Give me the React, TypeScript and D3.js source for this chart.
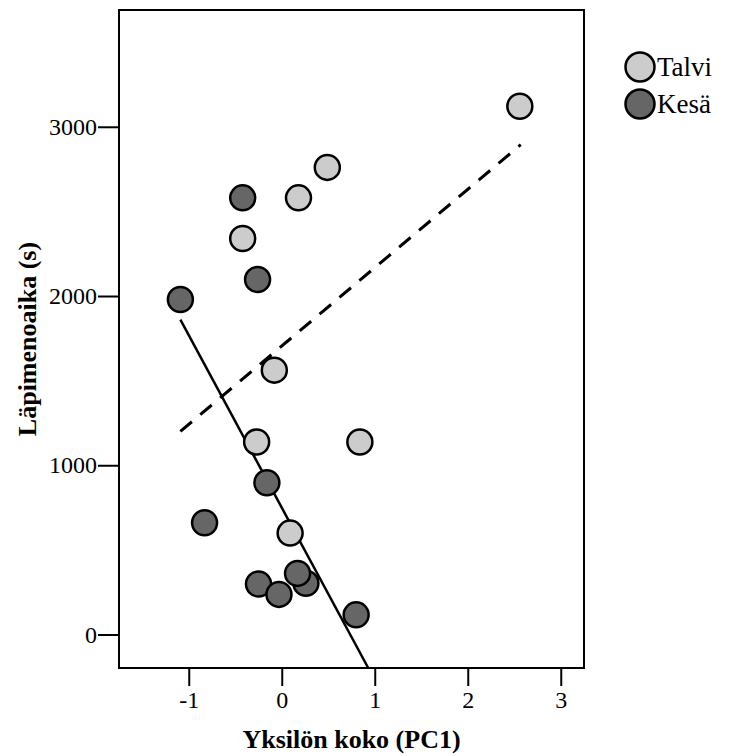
import React, { useEffect, useRef } from 'react';
import * as d3 from 'd3';

// Talvi (winter) points
const talviX = [2.56, 0.49, 0.18, -0.42, -0.08, -0.27, 0.84, 0.09];
const talviY = [3121, 2760, 2580, 2340, 1562, 1137, 1137, 599];

// Kesä (summer) points
const kesaX = [-0.42, -0.26, -1.09, -0.16, -0.83, -0.25, -0.03, 0.26, 0.17, 0.80];
const kesaY = [2580, 2098, 1979, 897, 660, 298, 237, 303, 361, 116];

// fitted lines: [x0, x1] / [y0, y1]
const talviLineX = [-1.09, 2.57];
const talviLineY = [1200, 2894];
const kesaLineX = [-1.09, 0.93];
const kesaLineY = [1860, -198];

const xTicks = [-1, 0, 1, 2, 3];
const yTicks = [0, 1000, 2000, 3000];

const groups = ['Talvi', 'Kesä'];
const groupColors = ['#cccccc', '#666666'];

const App = () => {
  const svgRef = useRef<SVGSVGElement>(null);

  useEffect(() => {
    if (!svgRef.current) return;
    const svg = d3.select(svgRef.current);
    svg.selectAll('*').remove();

    const left = 119, right = 584, top = 10, bottom = 668;
    const font = '"Liberation Serif", "Times New Roman", serif';

    const x = d3.scaleLinear().domain([-1.75, 3.25]).range([left, right]);
    const y = d3.scaleLinear().domain([-198, 3690]).range([bottom, top]);

    // frame
    svg.append('rect')
      .attr('x', left).attr('y', top)
      .attr('width', right - left).attr('height', bottom - top)
      .attr('fill', 'none').attr('stroke', '#000').attr('stroke-width', 2);

    // axes (no domain line, the frame does it)
    const xAxis = svg.append('g')
      .attr('transform', `translate(0,${bottom})`)
      .call(d3.axisBottom(x).tickValues(xTicks).tickFormat(d => String(d)).tickSize(18).tickPadding(5));
    xAxis.select('.domain').remove();

    const yAxis = svg.append('g')
      .attr('transform', `translate(${left},0)`)
      .call(d3.axisLeft(y).tickValues(yTicks).tickFormat(d => String(d)).tickSize(21).tickPadding(1));
    yAxis.select('.domain').remove();

    [xAxis, yAxis].forEach(g => {
      g.attr('font-family', null).attr('font-size', null);
      g.selectAll('line').attr('stroke', '#000').attr('stroke-width', 2);
      g.selectAll('text')
        .attr('fill', '#000')
        .style('font-family', font)
        .style('font-size', '24px');
    });

    // axis titles
    svg.append('text')
      .attr('x', (left + right) / 2).attr('y', 748)
      .attr('text-anchor', 'middle')
      .style('font-family', font).style('font-size', '26px').style('font-weight', 'bold')
      .text('Yksilön koko (PC1)');

    svg.append('text')
      .attr('transform', `translate(36,${(top + bottom) / 2}) rotate(-90)`)
      .attr('text-anchor', 'middle')
      .style('font-family', font).style('font-size', '26px').style('font-weight', 'bold')
      .text('Läpimenoaika (s)');

    // lines
    const line = d3.line<[number, number]>().x(d => x(d[0])).y(d => y(d[1]));
    svg.append('path')
      .attr('d', line(d3.zip(talviLineX, talviLineY) as [number, number][]))
      .attr('fill', 'none').attr('stroke', '#000').attr('stroke-width', 3)
      .attr('stroke-dasharray', '15,11');
    svg.append('path')
      .attr('d', line(d3.zip(kesaLineX, kesaLineY) as [number, number][]))
      .attr('fill', 'none').attr('stroke', '#000').attr('stroke-width', 2.5);

    // points
    const series = [
      { xs: talviX, ys: talviY, color: groupColors[0] },
      { xs: kesaX, ys: kesaY, color: groupColors[1] },
    ];
    series.forEach(s => {
      svg.append('g')
        .selectAll('circle')
        .data(d3.zip(s.xs, s.ys))
        .enter().append('circle')
        .attr('cx', d => x(d[0]))
        .attr('cy', d => y(d[1]))
        .attr('r', 12.5)
        .attr('fill', s.color)
        .attr('stroke', '#000')
        .attr('stroke-width', 2.5);
    });

    // legend
    const legend = svg.append('g').attr('transform', 'translate(640,67)');
    groups.forEach((g, i) => {
      legend.append('circle')
        .attr('cx', 0).attr('cy', i * 37)
        .attr('r', 14.5)
        .attr('fill', groupColors[i])
        .attr('stroke', '#000').attr('stroke-width', 2.5);
      legend.append('text')
        .attr('x', 17).attr('y', i * 37 + 9)
        .style('font-family', font).style('font-size', '27px')
        .text(g);
    });
  }, []);

  return (
    <svg ref={svgRef} width={732} height={756}
      style={{ position: 'absolute', left: 0, top: 0, background: '#fff' }} />
  );
};

export default App;
